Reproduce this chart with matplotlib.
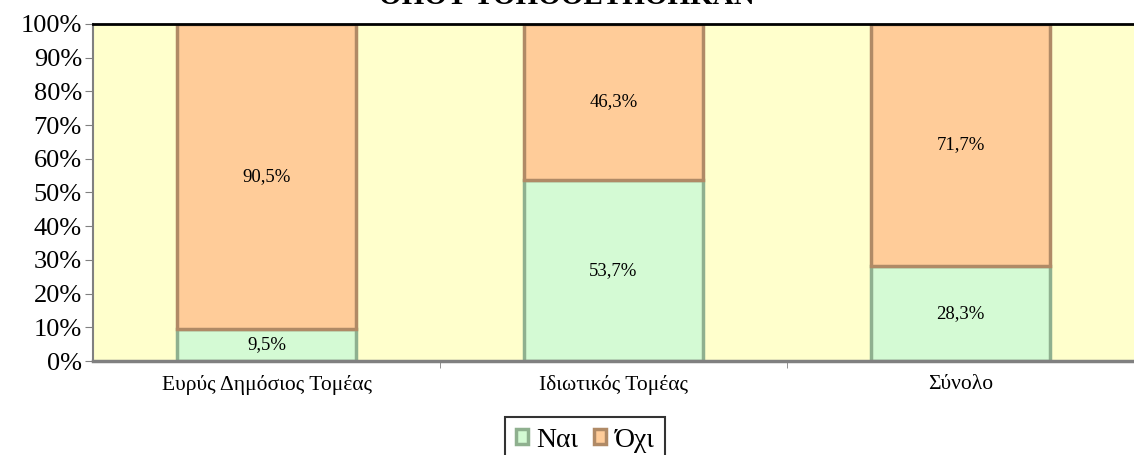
import matplotlib
matplotlib.use("Agg")
import matplotlib.pyplot as plt
import numpy as np

categories = ["Ευρύς Δημόσιος Τομέας", "Ιδιωτικός Τομέας", "Σύνολο"]
nai = [9.5, 53.7, 28.3]
oxi = [90.5, 46.3, 71.7]
seriesNames = ["Ναι", "Όχι"]

plt.rcParams['font.family'] = ['Liberation Serif', 'DejaVu Serif']

fig = plt.figure(figsize=(11.34, 4.55), dpi=100)
ax = fig.add_axes([93 / 1134, 1 - 361 / 455, 1041 / 1134, 337 / 455])
ax.set_facecolor("#FFFFCC")

x = np.arange(len(categories))
width = 0.515

barsNai = ax.bar(x, nai, width, color="#D4FAD4", edgecolor="#8FB08F", linewidth=2.5,
                 label=seriesNames[0], zorder=2)
barsOxi = ax.bar(x, oxi, width, bottom=nai, color="#FFCC99", edgecolor="#B08A66",
                 linewidth=2.5, label=seriesNames[1], zorder=2)

for i in range(len(categories)):
    ax.text(x[i], nai[i] / 2, f"{nai[i]:.1f}%".replace(".", ","), ha="center",
            va="center", fontsize=13.5, zorder=3)
    ax.text(x[i], nai[i] + oxi[i] / 2, f"{oxi[i]:.1f}%".replace(".", ","), ha="center",
            va="center", fontsize=13.5, zorder=3)

ax.set_xlim(-0.5, 2.48)
ax.set_ylim(0, 100)
ax.set_yticks(np.arange(0, 101, 10))
ax.set_yticklabels([f"{v}%" for v in range(0, 101, 10)], fontsize=19)
ax.set_xticks(x)
ax.set_xticklabels(categories, fontsize=15.5)
ax.set_xticks([0.5, 1.5, 2.5], minor=True)
ax.tick_params(axis="x", which="major", length=0, pad=10)
ax.tick_params(axis="x", which="minor", length=5, color="#808080")
ax.tick_params(axis="y", length=6, color="#808080", pad=2)

ax.spines["left"].set_color("#808080")
ax.spines["left"].set_linewidth(1.5)
ax.spines["bottom"].set_color("#808080")
ax.spines["bottom"].set_linewidth(2.5)
ax.spines["top"].set_color("black")
ax.spines["top"].set_linewidth(2)
ax.spines["right"].set_visible(False)

fig.text(0.5, 1 - 4 / 455, "ΟΠΟΥ ΤΟΠΟΘΕΤΗΘΗΚΑΝ", ha="center", va="baseline",
         fontsize=21, fontweight="bold")

leg = fig.legend(handles=[barsNai, barsOxi], loc="upper left", bbox_to_anchor=(505 / 1134, 1 - 417 / 455),
                 ncol=2, fontsize=20, frameon=True, fancybox=False, edgecolor="black",
                 handlelength=0.45, handleheight=0.45, handletextpad=0.3, columnspacing=0.55,
                 borderpad=0.38, borderaxespad=0)
leg.get_frame().set_linewidth(1.5)

fig.savefig("out.png", dpi=100)
